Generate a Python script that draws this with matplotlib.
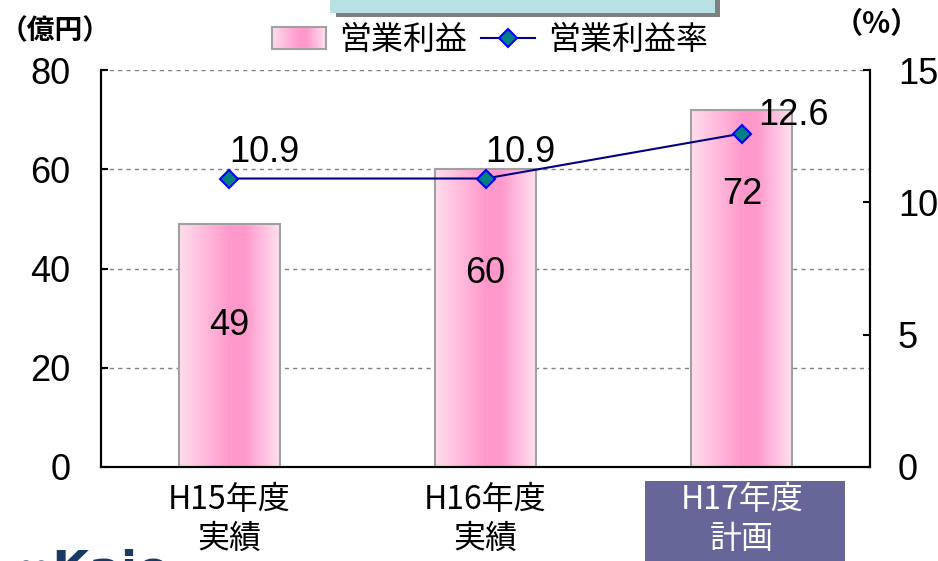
import numpy as np
import matplotlib
matplotlib.use("Agg")
import matplotlib.pyplot as plt
from matplotlib.colors import LinearSegmentedColormap
from matplotlib.patches import Rectangle
from matplotlib.lines import Line2D
from matplotlib.legend_handler import HandlerBase

plt.rcParams['font.family'] = ['Liberation Sans', 'Noto Sans CJK JP', 'DejaVu Sans']

categories = ["H15年度\n実績", "H16年度\n実績", "H17年度\n計画"]
profit = [49, 60, 72]           # 営業利益（億円）
margin = [10.9, 10.9, 12.6]     # 営業利益率（%）
profit_labels = ["49", "60", "72"]
margin_labels = ["10.9", "10.9", "12.6"]
left_ticks = [0, 20, 40, 60, 80]
right_ticks = [0, 5, 10, 15]

cjk = ['Noto Sans CJK JP', 'DejaVu Sans']
grad_cmap = LinearSegmentedColormap.from_list(
    "pinkgrad", [(0.0, "#FFDDEC"), (0.5, "#FF99CC"), (0.65, "#FF99CC"), (1.0, "#FFE2EF")])

W, H = 938, 561
fig = plt.figure(figsize=(W / 100, H / 100), dpi=100)
ax = fig.add_axes([101 / W, 1 - 467 / H, (870 - 101) / W, (467 - 70) / H])
ax2 = ax.twinx()

x = np.arange(len(categories))
bw = 0.395

# grid
for v in left_ticks[1:]:
    ax.axhline(v, color="#808080", lw=1.0, ls=(0, (3, 3)), zorder=0)

# gradient bars
grad = np.linspace(0, 1, 256).reshape(1, -1)
bars = ax.bar(x, profit, width=bw, facecolor="none", edgecolor="#A0A0A0", lw=1.5, zorder=2)
for b in bars:
    x0, y0 = b.get_x(), b.get_y()
    ax.imshow(grad, cmap=grad_cmap, aspect="auto",
              extent=(x0, x0 + b.get_width(), y0, y0 + b.get_height()), zorder=1)
ax.set_aspect("auto")
ax.set_xlim(-0.5, len(categories) - 0.5)
ax.set_ylim(0, 80)
ax2.set_ylim(0, 15)

profit_label_y = [28.5, 39, 55]
for xi, lab, ly in zip(x, profit_labels, profit_label_y):
    ax.text(xi, ly, lab, ha="center", va="center", fontsize=26, color="black", zorder=5)

# line on secondary axis
ax2.plot(x, margin, color="#000080", lw=1.5, marker="D", markersize=9,
         markerfacecolor="#008080", markeredgecolor="#0000FF", markeredgewidth=1.5, zorder=4)
margin_offsets = [(0, 19), (0, 19), (12, 13)]
for xi, m, lab, off in zip(x, margin, margin_labels, margin_offsets):
    ax2.annotate(lab, (xi, m), xytext=off, textcoords="offset points",
                 ha="left", va="center", fontsize=26, color="black")

# spines / ticks
for a in (ax, ax2):
    a.spines["top"].set_visible(False)
    for s in ("left", "right", "bottom"):
        a.spines[s].set_linewidth(1.5)
        a.spines[s].set_color("black")
ax.set_yticks(left_ticks)
ax.tick_params(axis="y", direction="in", length=5, width=1.5, pad=22, labelsize=26)
ax2.set_yticks(right_ticks)
ax2.tick_params(axis="y", direction="in", length=5, width=1.5, pad=20, labelsize=26)
ax.set_xticks(x)
ax.set_xticklabels(categories, fontsize=23, family=cjk, linespacing=1.3)
ax.tick_params(axis="x", length=0, pad=12)
ticklabs = ax.get_xticklabels()
ticklabs[-1].set_color("white")

# highlighted box behind last category label
fig.patches.append(Rectangle((645 / W, 0), 200 / W, (561 - 481) / H, transform=fig.transFigure,
                             facecolor="#666699", edgecolor="none", zorder=-1))

# unit labels
fig.text(0 / W, 1 - 31 / H, "（億円）", family=cjk, fontsize=20, fontweight="bold",
         ha="left", va="center")
fig.text(834 / W, 1 - 24 / H, "（%）", family=['Noto Sans CJK JP', 'Liberation Serif'],
         fontsize=21, fontweight="bold", ha="left", va="center")

# partial title box at top
fig.patches.append(Rectangle((336 / W, 1 - 17 / H), 384 / W, 17 / H, transform=fig.transFigure,
                             facecolor="#808080", edgecolor="none", zorder=-1))
fig.patches.append(Rectangle((330 / W, 1 - 13 / H), 385 / W, 14 / H, transform=fig.transFigure,
                             facecolor="#B9E0E3", edgecolor="none", zorder=-0.5))

# partial logo at bottom-left
fig.text(14 / W, -33 / H, "∞Kaio", fontsize=34, fontweight="bold", color="#1B3A63",
         ha="left", va="bottom", family=['DejaVu Sans'])


# legend with gradient swatch
class GradHandler(HandlerBase):
    def create_artists(self, legend, orig, xd, yd, width, height, fontsize, trans):
        arts = []
        n = 40
        for i in range(n):
            r = Rectangle((xd + width * i / n, yd), width / n + 0.3, height,
                          facecolor=grad_cmap((i + 0.5) / n), edgecolor="none", transform=trans)
            arts.append(r)
        arts.append(Rectangle((xd, yd), width, height, facecolor="none",
                              edgecolor="#A0A0A0", lw=1.5, transform=trans))
        return arts


h_bar = Rectangle((0, 0), 1, 1)
h_line = Line2D([], [], color="#000080", lw=1.5, marker="D", markersize=9,
                markerfacecolor="#008080", markeredgecolor="#0000FF", markeredgewidth=1.5)
leg = fig.legend([h_bar, h_line], ["営業利益", "営業利益率"], handler_map={h_bar: GradHandler()},
                 loc="center", bbox_to_anchor=(490 / W, 1 - 40 / H), ncol=2, frameon=False,
                 prop={"family": cjk, "size": 23}, handlelength=1.7, handletextpad=0.4,
                 columnspacing=0.45, borderpad=0, borderaxespad=0)

fig.savefig("out.png", dpi=100)
